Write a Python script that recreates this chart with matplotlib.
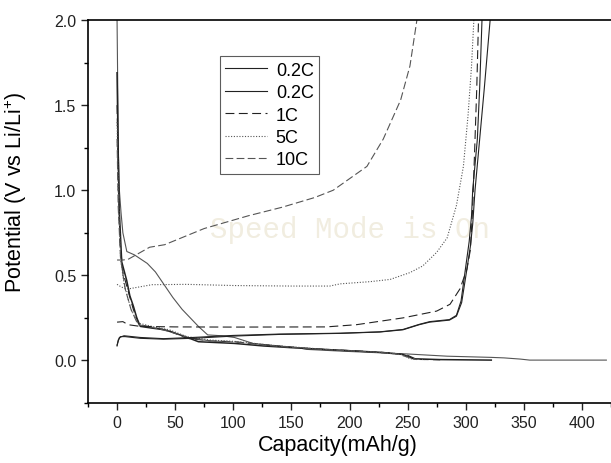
import numpy as np
import matplotlib
matplotlib.use('Agg')
import matplotlib.pyplot as plt
from matplotlib.ticker import MultipleLocator

plt.rcParams['font.family'] = ['Liberation Sans', 'DejaVu Sans']
plt.rcParams['mathtext.fontset'] = 'custom'
plt.rcParams['mathtext.rm'] = 'Liberation Sans'

# ---- data (capacity mAh/g, potential V) ----
# discharge curves
d02a_cap = [0, 0.6, 1.2, 2, 3.4, 5, 8.4, 15, 26, 33, 41, 48, 56, 63, 70, 78, 90, 101, 117, 140, 155, 163,
            192, 226, 250, 284, 322, 333, 347, 355, 421]
d02a_v = [2.0, 1.6, 1.2, 1.0, 0.87, 0.75, 0.64, 0.62, 0.57, 0.52, 0.44, 0.37, 0.30, 0.25, 0.20, 0.15, 0.145,
          0.135, 0.10, 0.084, 0.076, 0.065, 0.055, 0.045, 0.038, 0.025, 0.018, 0.015, 0.008, 0.002, 0.002]
d02b_cap = [0, 0.8, 1.8, 4, 8.3, 11, 14, 17, 20, 30, 41, 50, 58.5, 70, 101, 126, 150, 192, 226, 246, 255, 278, 322]
d02b_v = [1.69, 1.3, 0.9, 0.58, 0.47, 0.38, 0.32, 0.25, 0.20, 0.19, 0.18, 0.16, 0.14, 0.11, 0.10, 0.085, 0.075,
          0.06, 0.048, 0.035, 0.01, 0.005, 0.002]
d1_cap = [0, 1, 2.5, 5, 9, 14, 19, 30, 45, 60, 80, 101, 130, 160, 200, 235, 250, 258, 278]
d1_v = [1.5, 1.1, 0.7, 0.52, 0.42, 0.30, 0.21, 0.195, 0.175, 0.13, 0.115, 0.11, 0.09, 0.072, 0.058, 0.045,
        0.03, 0.006, 0.004]
d5_cap = [0, 1, 3, 6, 12, 18, 30, 45, 60, 80, 101, 140, 180, 220, 245, 252, 265]
d5_v = [1.4, 1.0, 0.6, 0.45, 0.30, 0.22, 0.20, 0.18, 0.14, 0.12, 0.112, 0.085, 0.065, 0.05, 0.035, 0.01, 0.005]
d10_cap = [0, 1, 3, 7, 12, 18, 30, 45, 60, 80, 101, 140, 180, 220, 240, 250, 258]
d10_v = [1.3, 0.9, 0.6, 0.42, 0.30, 0.21, 0.195, 0.17, 0.135, 0.115, 0.108, 0.082, 0.063, 0.05, 0.04, 0.02, 0.005]

# charge curves
c02a_cap = [0, 1, 3, 7, 20, 40, 65, 100, 140, 192, 226, 246, 260, 269, 286, 292, 296.5, 301, 304, 306, 308,
            312, 316, 321]
c02a_v = [0.085, 0.12, 0.14, 0.14, 0.13, 0.125, 0.13, 0.143, 0.153, 0.159, 0.167, 0.18, 0.21, 0.225, 0.237,
          0.26, 0.34, 0.535, 0.67, 0.8, 1.0, 1.3, 1.6, 2.0]
c02b_cap = [0, 2, 6, 20, 40, 65, 100, 140, 192, 226, 246, 260, 269, 286, 292, 296, 300, 303, 305, 306, 310,
            312, 314]
c02b_v = [0.09, 0.135, 0.145, 0.135, 0.128, 0.135, 0.147, 0.155, 0.16, 0.168, 0.182, 0.212, 0.228, 0.24, 0.265,
          0.35, 0.55, 0.70, 0.85, 1.0, 1.3, 1.6, 2.0]
c1_cap = [0, 5, 9.5, 20, 50, 100, 180, 206, 226, 246, 275, 286.5, 295, 301, 304, 306, 308, 309.5, 311]
c1_v = [0.225, 0.228, 0.21, 0.20, 0.197, 0.196, 0.197, 0.21, 0.23, 0.25, 0.29, 0.33, 0.42, 0.535, 0.65, 0.9,
        1.3, 1.6, 2.0]
c5_cap = [0, 4, 9.5, 30, 60, 101, 150, 183, 192, 218, 235, 252, 263, 275, 284, 292, 298, 302, 305, 307]
c5_v = [0.447, 0.43, 0.42, 0.445, 0.447, 0.44, 0.437, 0.437, 0.45, 0.463, 0.476, 0.516, 0.555, 0.635, 0.72,
        0.91, 1.14, 1.44, 1.73, 2.0]
c10_cap = [0, 5, 9.5, 28, 41, 75, 113, 142, 170, 186, 215, 229, 244, 252, 258]
c10_v = [0.59, 0.59, 0.594, 0.665, 0.68, 0.775, 0.85, 0.90, 0.957, 1.0, 1.14, 1.30, 1.53, 1.73, 2.0]

labels = ['0.2C', '0.2C', '1C', '5C', '10C']

fig = plt.figure(figsize=(6.11, 4.64), dpi=100)
ax = fig.add_axes([88 / 611, 1 - 404 / 464, 1 - 88 / 611, (404 - 21) / 464])

lw = 0.8
k = '#222222'
g = '#555555'
ax.plot(d02a_cap, d02a_v, c=g, lw=lw)
ax.plot(d02b_cap, d02b_v, c=k, lw=1.1)
ax.plot(d1_cap, d1_v, c=k, lw=lw, ls=(0, (8, 4)))
ax.plot(d5_cap, d5_v, c=g, lw=lw, ls=(0, (1, 1.5)))
ax.plot(d10_cap, d10_v, c=g, lw=lw, ls=(0, (7, 3)))

h1, = ax.plot(c02a_cap, c02a_v, c=k, lw=lw)
h2, = ax.plot(c02b_cap, c02b_v, c=k, lw=lw)
h3, = ax.plot(c1_cap, c1_v, c=k, lw=lw, ls=(0, (8, 4)))
h4, = ax.plot(c5_cap, c5_v, c=g, lw=lw, ls=(0, (1, 1.5)))
h5, = ax.plot(c10_cap, c10_v, c=g, lw=lw, ls=(0, (7, 3)))

# watermark from the original screenshot
ax.text(200, 0.77, 'Speed Mode is On', family='Liberation Mono', fontsize=21, color='#f1ede0',
        ha='center', va='center', zorder=0)

ax.set_xlim(-25, 425)
ax.set_ylim(-0.25, 2.0)
ax.xaxis.set_major_locator(MultipleLocator(50))
ax.xaxis.set_minor_locator(MultipleLocator(25))
ax.yaxis.set_major_locator(MultipleLocator(0.5))
ax.yaxis.set_minor_locator(MultipleLocator(0.25))
ax.tick_params(which='major', direction='out', length=5, width=1, labelsize=11.5, colors='#222222')
ax.tick_params(which='minor', direction='out', length=3, width=1)
ax.spines['right'].set_visible(False)
for s in ['left', 'bottom', 'top']:
    ax.spines[s].set_linewidth(1.2)
ax.set_xticks(np.arange(0, 401, 50))
ax.set_xlabel('Capacity(mAh/g)', fontsize=15.5)
ax.set_ylabel('Potential (V vs Li/Li$^{+}$)', fontsize=15.5)
ax.xaxis.set_label_coords(0.478, -0.082)
ax.yaxis.set_label_coords(-0.113, 0.553)

leg = ax.legend([h1, h2, h3, h4, h5], labels, loc='upper left', bbox_to_anchor=(0.252, 0.905),
                fontsize=13, handlelength=2.3, labelspacing=0.3, frameon=True, fancybox=False,
                borderpad=0.3, handletextpad=0.5, borderaxespad=0)
leg.get_frame().set_edgecolor('#333333')
leg.get_frame().set_linewidth(0.8)

fig.savefig('out.png', dpi=100)
